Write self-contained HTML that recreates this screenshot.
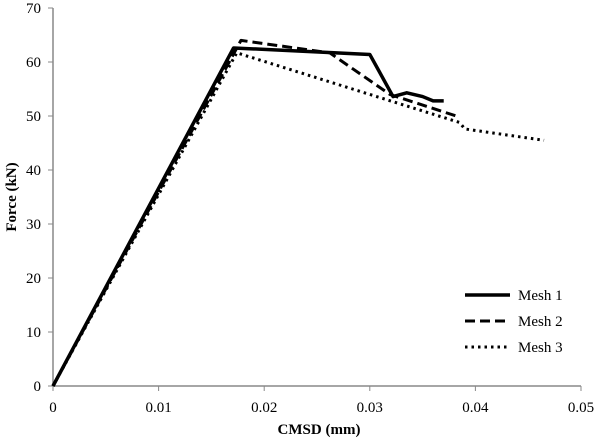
<!DOCTYPE html>
<html><head><meta charset="utf-8"><style>
body{margin:0;background:#fff;}
svg{display:block;font-family:"Liberation Serif",serif;}
</style></head><body>
<svg id="chart" width="600" height="440"></svg>
<script>
const xTicks=[0,0.01,0.02,0.03,0.04,0.05];
const xTickLabels=["0","0.01","0.02","0.03","0.04","0.05"];
const yTicks=[0,10,20,30,40,50,60,70];
const mesh1X=[0,0.0171,0.030,0.0322,0.0335,0.035,0.036,0.037];
const mesh1Y=[0,62.6,61.4,53.6,54.3,53.6,52.8,52.8];
const mesh2X=[0,0.0178,0.0262,0.0319,0.0385];
const mesh2Y=[0,64,61.7,54.0,49.8];
const mesh3X=[0,0.0174,0.0385,0.039,0.0465];
const mesh3Y=[0,61.7,48.8,47.6,45.5];
const NS="http://www.w3.org/2000/svg";
const svg=document.getElementById('chart');
const X0=53,X1=581,Y0=386,Y1=8;
const xs=v=>X0+v/0.05*(X1-X0);
const ys=v=>Y0-v/70*(Y0-Y1);
function mk(t,a,p){const e=document.createElementNS(NS,t);for(const k in a)e.setAttribute(k,a[k]);(p||svg).appendChild(e);return e;}
let ax=mk('line',{x1:X0,y1:Y0,x2:X1,y2:Y0,stroke:'#888','stroke-width':1.5});


let ay=mk('line',{x1:X0,y1:Y0,x2:X0,y2:Y1,stroke:'#888','stroke-width':1.5});


xTicks.forEach((v,i)=>{
 mk('line',{x1:xs(v),y1:Y0,x2:xs(v),y2:Y0+5,stroke:'#888'});
 let t=mk('text',{x:xs(v),y:Y0+26,'text-anchor':'middle','font-size':15});
 t.textContent=xTickLabels[i];
 
 
});
yTicks.forEach(v=>{
 mk('line',{x1:X0-5,y1:ys(v),x2:X0,y2:ys(v),stroke:'#888'});
 let t=mk('text',{x:X0-12,y:ys(v)+5,'text-anchor':'end','font-size':15});
 t.textContent=v;
 
 
});
let xt=mk('text',{x:319,y:434,'text-anchor':'middle','font-size':15,'font-weight':'bold'});
xt.textContent='CMSD (mm)';


let yt=mk('text',{x:0,y:0,'text-anchor':'middle','font-size':15,'font-weight':'bold',transform:'translate(16,197) rotate(-90)'});
yt.textContent='Force (kN)';


const series=[[mesh1X,mesh1Y,'',3.5,'mesh-1-line','Mesh 1'],[mesh2X,mesh2Y,'10,5',3,'mesh-2-line','Mesh 2'],[mesh3X,mesh3Y,'2.5,4',3,'mesh-3-line','Mesh 3']];
series.forEach((s,i)=>{
 const d=s[0].map((x,j)=>(j?'L':'M')+xs(x)+','+ys(s[1][j])).join(' ');
 let p=mk('path',{d:d,fill:'none',stroke:'#000','stroke-width':s[3],'stroke-dasharray':s[2],'stroke-linejoin':'round'});
 
 
 const ly=295+i*26;
 let g=mk('g',{});
 
 
 mk('line',{x1:465,y1:ly,x2:510,y2:ly,stroke:'#000','stroke-width':s[3],'stroke-dasharray':s[2]},g);
 let t=mk('text',{x:518,y:ly+5,'font-size':15},g);
 t.textContent=s[5];
});
</script>
</body></html>
